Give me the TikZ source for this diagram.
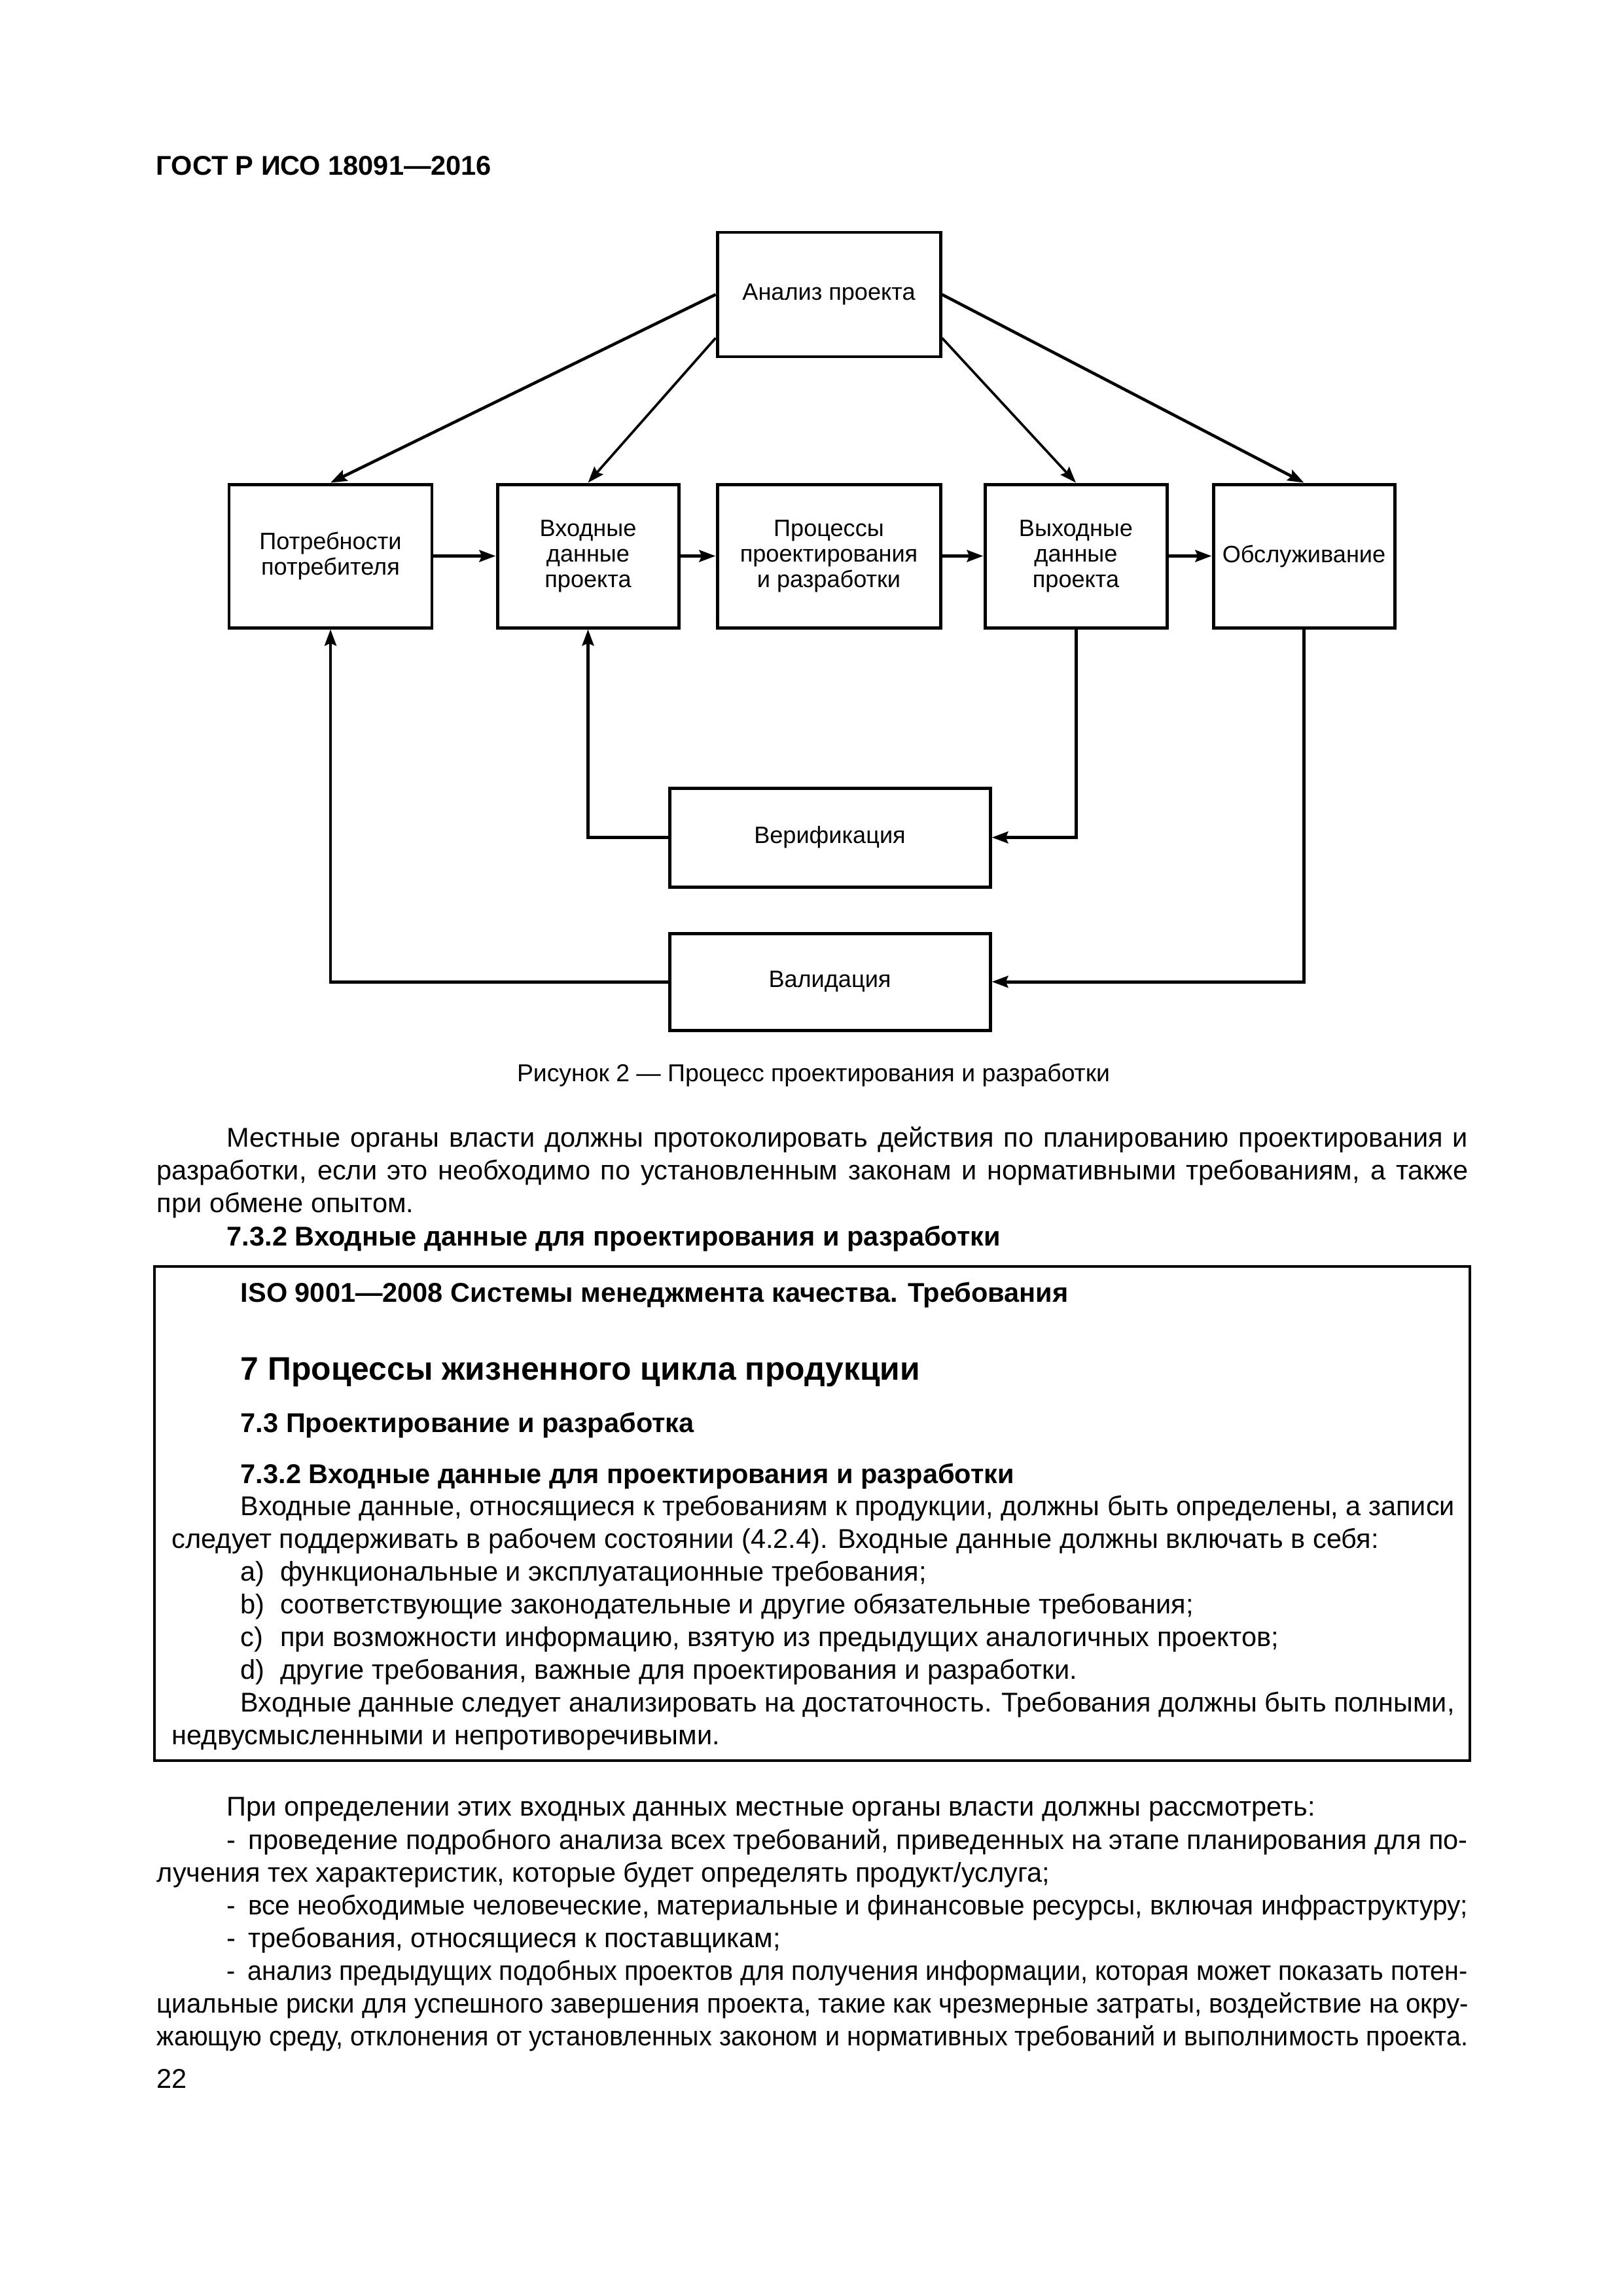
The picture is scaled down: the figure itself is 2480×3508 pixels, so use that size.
\documentclass[tikz,border=0pt]{standalone}
\usepackage{fontspec}
\setmainfont{Liberation Sans}
\setsansfont{Liberation Sans}
\usepackage{graphicx}
\usepackage{tikz}
\usetikzlibrary{arrows.meta}
\tikzset{every picture/.style={/utils/exec={\sffamily}}}

% one pixel of the 2480x3508 page
\newcommand{\pxl}{0.084667mm}
\newcommand{\bodyfont}{\fontsize{10}{12}\selectfont}
\newcommand{\boxfont}{\fontsize{8.7}{9.4}\selectfont}
% line widths
\newcommand{\wfull}{169.67mm}
\newcommand{\wind}{160.53mm}
\newcommand{\wboxind}{157.06mm}

% justified line: stretch the spaces, or squeeze a line that is too long
\newbox\jlbox
\newcommand{\jline}[2]{%
  \setbox\jlbox=\hbox{#2}%
  \ifdim\wd\jlbox>#1\relax
    \pgfmathsetmacro\jlratio{#1/\the\wd\jlbox}%
    \scalebox{\jlratio}[1]{\box\jlbox}%
  \else
    \makebox[#1][s]{#2}%
  \fi}
\newcommand{\itm}[1]{\makebox[5.1mm][l]{#1}}
\newcommand{\dsh}{\makebox[2.8mm][l]{-}}

\begin{document}
\begin{tikzpicture}[x=\pxl, y=-\pxl, >={Stealth[length=2.1mm, width=1.5mm, inset=0.3mm]},
    blk/.style={draw, line width=1.2pt, fill=white, align=center, font=\boxfont,
      inner sep=1pt, minimum height=219*\pxl},
    txt/.style={anchor=base west, inner sep=0pt, font=\bodyfont},
    hd/.style={txt, font=\bodyfont\bfseries}]
    \fill[white] (0,0) rectangle (2480,3508);
    \useasboundingbox (0,0) rectangle (2480,3508);

    % Header
    \node[hd] (gost) at (238,267) {ГОСТ Р ИСО 18091—2016};

    % Nodes
    \node[blk, minimum width=341*\pxl, minimum height=190*\pxl] (anal) at (1266.5,450) {Анализ проекта};
    \node[blk, minimum width=310*\pxl] (need) at (505,849.5) {Потребности\\потребителя};
    \node[blk, minimum width=277*\pxl] (inp) at (898.5,849.5) {Входные\\данные\\проекта};
    \node[blk, minimum width=341*\pxl] (proc) at (1266.5,849.5) {Процессы\\проектирования\\и разработки};
    \node[blk, minimum width=278*\pxl] (outp) at (1644,849.5) {Выходные\\данные\\проекта};
    \node[blk, minimum width=277*\pxl] (serv) at (1992.5,849.5) {Обслуживание};
    \node[blk, minimum width=490*\pxl, minimum height=151*\pxl] (verif) at (1268,1279.5) {Верификация};
    \node[blk, minimum width=490*\pxl, minimum height=148*\pxl] (val) at (1268,1500) {Валидация};

    % Directed edges
    \draw[->, line width=1.1pt] (anal.west) -- (need.north);
    \draw[->, line width=0.9pt] (anal.201) -- (inp.north);
    \draw[->, line width=0.9pt] (anal.339) -- (outp.north);
    \draw[->, line width=1.1pt] (anal.east) -- (serv.north);
    \draw[->, line width=1.4pt] (need) -- (inp);
    \draw[->, line width=1.4pt] (inp) -- (proc);
    \draw[->, line width=1.4pt] (proc) -- (outp);
    \draw[->, line width=1.4pt] (outp) -- (serv);
    \draw[->, line width=1.2pt] (outp) |- (verif);
    \draw[->, line width=1.2pt] (verif) -| (inp);
    \draw[->, line width=1.2pt] (serv) |- (val);
    \draw[->, line width=1.2pt] (val) -| (need);

    % Caption
    \node[anchor=base, inner sep=0pt, font=\fontsize{9}{11}\selectfont] (cap) at (1243,1652)
        {Рисунок 2 — Процесс проектирования и разработки};

    % Text before the frame
    \node[txt] (p1) at (346,1752) {\jline{\wind}{Местные органы власти должны протоколировать действия по планированию проектирования и}};
    \node[txt] (p2) at (239,1802) {\jline{\wfull}{разработки, если это необходимо по установленным законам и нормативными требованиям, а также}};
    \node[txt] (p3) at (239,1852) {при обмене опытом.};
    \node[hd] (p4) at (346,1903) {7.3.2 Входные данные для проектирования и разработки};

    % Frame with the quoted clause
    \draw[line width=0.9pt] (236,1935) rectangle (2246,2690);
    \node[hd] (b1) at (367,1989) {ISO 9001—2008 Системы менеджмента качества. Требования};
    \node[hd, font=\fontsize{12}{14}\selectfont\bfseries] (b2) at (367,2108) {7 Процессы жизненного цикла продукции};
    \node[hd] (b3) at (367,2188) {7.3 Проектирование и разработка};
    \node[hd] (b4) at (367,2266) {7.3.2 Входные данные для проектирования и разработки};
    \node[txt] (b5) at (367,2315) {\jline{\wboxind}{Входные данные, относящиеся к требованиям к продукции, должны быть определены, а записи}};
    \node[txt] (b6) at (262,2365) {следует поддерживать в рабочем состоянии (4.2.4). Входные данные должны включать в себя:};
    \node[txt] (b7) at (367,2415) {\itm{a)}функциональные и эксплуатационные требования;};
    \node[txt] (b8) at (367,2465) {\itm{b)}соответствующие законодательные и другие обязательные требования;};
    \node[txt] (b9) at (367,2515) {\itm{c)}при возможности информацию, взятую из предыдущих аналогичных проектов;};
    \node[txt] (b10) at (367,2565) {\itm{d)}другие требования, важные для проектирования и разработки.};
    \node[txt] (b11) at (367,2615) {\jline{\wboxind}{Входные данные следует анализировать на достаточность. Требования должны быть полными,}};
    \node[txt] (b12) at (262,2665) {недвусмысленными и непротиворечивыми.};

    % Text after the frame
    \node[txt] (q1) at (346,2774) {При определении этих входных данных местные органы власти должны рассмотреть:};
    \node[txt] (q2) at (346,2825) {\jline{\wind}{\dsh проведение подробного анализа всех требований, приведенных на этапе планирования для по-}};
    \node[txt] (q3) at (239,2875) {лучения тех характеристик, которые будет определять продукт/услуга;};
    \node[txt] (q4) at (346,2925) {\jline{\wind}{\dsh все необходимые человеческие, материальные и финансовые ресурсы, включая инфраструктуру;}};
    \node[txt] (q5) at (346,2975) {\dsh требования, относящиеся к поставщикам;};
    \node[txt] (q6) at (346,3025) {\jline{\wind}{\dsh анализ предыдущих подобных проектов для получения информации, которая может показать потен-}};
    \node[txt] (q7) at (239,3075) {\jline{\wfull}{циальные риски для успешного завершения проекта, такие как чрезмерные затраты, воздействие на окру-}};
    \node[txt] (q8) at (239,3125) {\jline{\wfull}{жающую среду, отклонения от установленных законом и нормативных требований и выполнимость проекта.}};

    % Page number
    \node[txt] (pg) at (239,3190) {22};
\end{tikzpicture}
\end{document}
